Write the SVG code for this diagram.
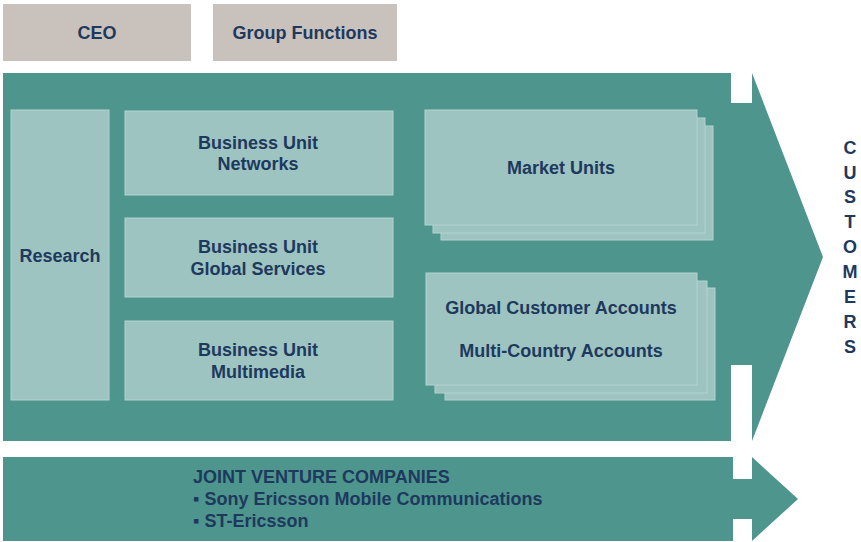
<svg xmlns="http://www.w3.org/2000/svg" width="861" height="542" viewBox="0 0 861 542">
<style>
.bg{fill:#ffffff}
.teal{fill:#4e958e}
.top{fill:#c9c2bc}
.box{fill:#9dc4c1;stroke:#b3d3d0;stroke-width:1}
.t{font-family:"Liberation Sans",Arial,sans-serif;font-weight:bold;font-size:18px;fill:#1d395d;text-anchor:middle}
.l{text-anchor:start}
</style>
<rect class="bg" x="0" y="0" width="861" height="542"/>
<g id="main-arrow">
<path class="teal" d="M3,73 H731 V103 H752 V73 L823,257 L752,441 V365 H731 V441 H3 Z"/>
</g>
<g id="jv-arrow">
<path class="teal" d="M3,457 H733 V479 H752 V457 L798,499 L752,541 V519 H733 V541 H3 Z"/>
</g>
<g id="ceo">
<rect class="top" x="3" y="4" width="188" height="57"/>
<text class="t" x="97" y="39">CEO</text>
</g>
<g id="group-functions">
<rect class="top" x="213" y="4" width="184" height="57"/>
<text class="t" x="305" y="39">Group Functions</text>
</g>
<g id="research">
<rect class="box" x="11" y="110" width="98" height="290"/>
<text class="t" x="60" y="262">Research</text>
</g>
<g id="bu-networks">
<rect class="box" x="125" y="111" width="268" height="84"/>
<text class="t" x="258" y="149">Business Unit</text>
<text class="t" x="258" y="170">Networks</text>
</g>
<g id="bu-global-services">
<rect class="box" x="125" y="218" width="268" height="79"/>
<text class="t" x="258" y="253">Business Unit</text>
<text class="t" x="258" y="275">Global Services</text>
</g>
<g id="bu-multimedia">
<rect class="box" x="125" y="321" width="268" height="79"/>
<text class="t" x="258" y="356">Business Unit</text>
<text class="t" x="258" y="378">Multimedia</text>
</g>
<g id="market-units">
<rect class="box" x="441" y="126" width="272" height="114"/>
<rect class="box" x="433" y="118" width="272" height="115"/>
<rect class="box" x="425" y="110" width="272" height="115"/>
<text class="t" x="561" y="174">Market Units</text>
</g>
<g id="customer-accounts">
<rect class="box" x="445" y="288" width="270" height="112"/>
<rect class="box" x="435" y="281" width="272" height="112"/>
<rect class="box" x="426" y="273" width="271" height="112"/>
<text class="t" x="561" y="314">Global Customer Accounts</text>
<text class="t" x="561" y="357">Multi-Country Accounts</text>
</g>
<g id="customers">
<text class="t" x="850" y="154">C</text>
<text class="t" x="850" y="179">U</text>
<text class="t" x="850" y="203">S</text>
<text class="t" x="850" y="228">T</text>
<text class="t" x="850" y="253">O</text>
<text class="t" x="850" y="278">M</text>
<text class="t" x="850" y="303">E</text>
<text class="t" x="850" y="328">R</text>
<text class="t" x="850" y="353">S</text>
</g>
<g id="joint-ventures">
<text class="t l" x="193" y="483">JOINT VENTURE COMPANIES</text>
<text class="t l" x="193" y="505">▪ Sony Ericsson Mobile Communications</text>
<text class="t l" x="193" y="527">▪ ST-Ericsson</text>
</g>
<g id="connectors"></g>
</svg>
